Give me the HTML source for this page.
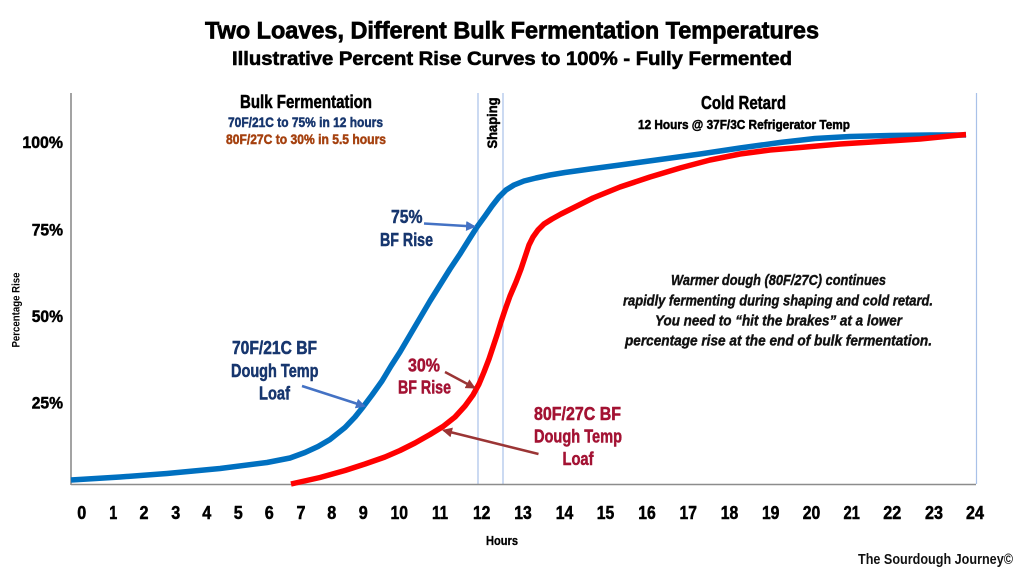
<!DOCTYPE html>
<html><head><meta charset="utf-8"><style>
html,body{margin:0;padding:0;background:#fff;}
svg{display:block;}
text{font-family:"Liberation Sans Narrow","Liberation Sans",sans-serif;font-weight:bold;}
.h{stroke-width:0.5;stroke-linejoin:round;}
</style></head><body>
<svg width="1024" height="576" viewBox="0 0 1024 576" xmlns="http://www.w3.org/2000/svg">
<defs>
<marker id="ab" markerWidth="4" markerHeight="4" refX="3.2" refY="2" orient="auto" markerUnits="strokeWidth"><path d="M0,0 L4,2 L0,4 z" fill="#4472c4"/></marker>
<marker id="ar" markerWidth="4" markerHeight="4" refX="3.2" refY="2" orient="auto" markerUnits="strokeWidth"><path d="M0,0 L4,2 L0,4 z" fill="#9b3535"/></marker>
</defs>
<rect width="1024" height="576" fill="#fff"/>

<!-- titles -->
<text x="205" y="38.5" font-size="24" textLength="614" lengthAdjust="spacingAndGlyphs" fill="#000" stroke="#000" stroke-width="0.7">Two Loaves, Different Bulk Fermentation Temperatures</text>
<text x="232" y="65" font-size="19" textLength="560" lengthAdjust="spacingAndGlyphs" fill="#000" stroke="#000" stroke-width="0.6">Illustrative Percent Rise Curves to 100% - Fully Fermented</text>

<!-- guide lines -->
<line x1="478" y1="93" x2="478" y2="484" stroke="#a9c1e8" stroke-width="1.2"/>
<line x1="503" y1="93" x2="503" y2="484" stroke="#a9c1e8" stroke-width="1.2"/>
<line x1="976.5" y1="93" x2="976.5" y2="484" stroke="#a9c1e8" stroke-width="1.2"/>
<!-- axes -->
<line x1="71" y1="93" x2="71" y2="485" stroke="#8c8c8c" stroke-width="1.6"/>
<line x1="71" y1="484.5" x2="976" y2="484.5" stroke="#8c8c8c" stroke-width="1.6"/>

<!-- section headers -->
<text class="h" stroke="#000" x="240" y="108" font-size="18" textLength="132" lengthAdjust="spacingAndGlyphs" fill="#000">Bulk Fermentation</text>
<text class="h" stroke="#17366e" x="228" y="127" font-size="14" textLength="155" lengthAdjust="spacingAndGlyphs" fill="#17366e">70F/21C to 75% in 12 hours</text>
<text class="h" stroke="#a5410f" x="226" y="144" font-size="14" textLength="160" lengthAdjust="spacingAndGlyphs" fill="#a5410f">80F/27C to 30% in 5.5 hours</text>
<text class="h" stroke="#000" x="701" y="109" font-size="18" textLength="85" lengthAdjust="spacingAndGlyphs" fill="#000">Cold Retard</text>
<text class="h" stroke="#000" x="638" y="129" font-size="13" textLength="212" lengthAdjust="spacingAndGlyphs" fill="#000">12 Hours @ 37F/3C Refrigerator Temp</text>
<text class="h" stroke="#000" transform="translate(497,123) rotate(-90)" x="0" y="0" font-size="14" text-anchor="middle" textLength="51" lengthAdjust="spacingAndGlyphs" fill="#000">Shaping</text>

<!-- y labels -->
<g font-size="17" fill="#000" stroke="#000" class="h" text-anchor="end">
<text x="63" y="148" textLength="40.6" lengthAdjust="spacingAndGlyphs">100%</text>
<text x="63" y="235.5" textLength="31.3" lengthAdjust="spacingAndGlyphs">75%</text>
<text x="63" y="322" textLength="31.3" lengthAdjust="spacingAndGlyphs">50%</text>
<text x="63" y="408.3" textLength="31.3" lengthAdjust="spacingAndGlyphs">25%</text>
</g>
<text transform="translate(19.5,310) rotate(-90)" x="0" y="0" font-size="11" text-anchor="middle" textLength="75" lengthAdjust="spacingAndGlyphs" fill="#000">Percentage Rise</text>

<!-- x labels -->
<g font-size="18" fill="#000" stroke="#000" class="h" text-anchor="middle">
<text x="81.7" y="519" textLength="9" lengthAdjust="spacingAndGlyphs">0</text>
<text x="113.3" y="519" textLength="8" lengthAdjust="spacingAndGlyphs">1</text>
<text x="144" y="519" textLength="9" lengthAdjust="spacingAndGlyphs">2</text>
<text x="175.7" y="519" textLength="9" lengthAdjust="spacingAndGlyphs">3</text>
<text x="206.7" y="519" textLength="9" lengthAdjust="spacingAndGlyphs">4</text>
<text x="238.3" y="519" textLength="9" lengthAdjust="spacingAndGlyphs">5</text>
<text x="269.3" y="519" textLength="9" lengthAdjust="spacingAndGlyphs">6</text>
<text x="301" y="519" textLength="9" lengthAdjust="spacingAndGlyphs">7</text>
<text x="331.7" y="519" textLength="9" lengthAdjust="spacingAndGlyphs">8</text>
<text x="363.3" y="519" textLength="9" lengthAdjust="spacingAndGlyphs">9</text>
<text x="399.3" y="519" textLength="17.5" lengthAdjust="spacingAndGlyphs">10</text>
<text x="440" y="519" textLength="16" lengthAdjust="spacingAndGlyphs">11</text>
<text x="481.7" y="519" textLength="17.5" lengthAdjust="spacingAndGlyphs">12</text>
<text x="523" y="519" textLength="17.5" lengthAdjust="spacingAndGlyphs">13</text>
<text x="564.5" y="519" textLength="17.5" lengthAdjust="spacingAndGlyphs">14</text>
<text x="605.5" y="519" textLength="17.5" lengthAdjust="spacingAndGlyphs">15</text>
<text x="647" y="519" textLength="17.5" lengthAdjust="spacingAndGlyphs">16</text>
<text x="688.3" y="519" textLength="17.5" lengthAdjust="spacingAndGlyphs">17</text>
<text x="729.5" y="519" textLength="17.5" lengthAdjust="spacingAndGlyphs">18</text>
<text x="770.7" y="519" textLength="17.5" lengthAdjust="spacingAndGlyphs">19</text>
<text x="811.5" y="519" textLength="17.5" lengthAdjust="spacingAndGlyphs">20</text>
<text x="851.7" y="519" textLength="16.5" lengthAdjust="spacingAndGlyphs">21</text>
<text x="892.3" y="519" textLength="18" lengthAdjust="spacingAndGlyphs">22</text>
<text x="934" y="519" textLength="18" lengthAdjust="spacingAndGlyphs">23</text>
<text x="975" y="519" textLength="18" lengthAdjust="spacingAndGlyphs">24</text>
</g>
<text x="486" y="545" font-size="13" textLength="32" lengthAdjust="spacingAndGlyphs" fill="#000" stroke="#000" stroke-width="0.3">Hours</text>
<text x="858" y="564" font-size="14.5" textLength="155" lengthAdjust="spacingAndGlyphs" fill="#111" style="font-family:'Liberation Sans',sans-serif;font-weight:bold">The Sourdough Journey©</text>

<!-- curves -->
<polyline fill="none" stroke="#0070c0" stroke-width="5.5" stroke-linejoin="round" stroke-linecap="butt" points="71,480 120,477 167,473.5 220,468.5 267,462.5 290,458 305,452.5 318,446.5 330,439.5 345,427.5 355,417 363,407 372,395 382,381 391,366 400,352 410,335 420,318 430,301 440,285 450,269 460,254 470,238 477,227 485,216 492,206 499,197 506,190 514,185 524,181 536,178 550,175 565,172.5 590,169 620,165 660,159.5 700,154 740,148 780,142.5 815,138.5 850,136.5 890,135.5 930,135 966,135"/>
<polyline fill="none" stroke="#ff0000" stroke-width="5.5" stroke-linejoin="round" stroke-linecap="butt" points="291,484 320,477.5 345,470.5 365,464 385,457 400,450.5 415,443 430,434.5 443,426.5 455,417 465,406 473,395 479,384 484,372 489,359 493,347 497,335 501,322 505,310 510,296 516,282 521,269 525,257 529,245 533,237 538,230 544,224 552,219 561,214 575,207 593,198 620,187 650,177 680,168 710,160 740,154 770,150 800,147.5 840,144 880,141.5 920,139 950,136 966,134.5"/>

<!-- arrows -->
<line x1="424" y1="223.5" x2="474" y2="226.5" stroke="#4472c4" stroke-width="2.5" marker-end="url(#ab)"/>
<line x1="302" y1="386" x2="364" y2="406" stroke="#4472c4" stroke-width="2.5" marker-end="url(#ab)"/>
<line x1="445" y1="372" x2="474" y2="387.5" stroke="#9b3535" stroke-width="2.5" marker-end="url(#ar)"/>
<line x1="538.5" y1="454" x2="444" y2="430.5" stroke="#9b3535" stroke-width="2.5" marker-end="url(#ar)"/>

<!-- annotations -->
<g font-size="18.5" fill="#17366e" stroke="#17366e" class="h">
<text x="391" y="223" textLength="31.5" lengthAdjust="spacingAndGlyphs">75%</text>
<text x="380" y="246" textLength="53" lengthAdjust="spacingAndGlyphs">BF Rise</text>
<text x="232" y="354" textLength="85" lengthAdjust="spacingAndGlyphs">70F/21C BF</text>
<text x="231" y="377" textLength="87.5" lengthAdjust="spacingAndGlyphs">Dough Temp</text>
<text x="259" y="399.3" textLength="31" lengthAdjust="spacingAndGlyphs">Loaf</text>
</g>
<g font-size="18.5" fill="#a31233" stroke="#a31233" class="h">
<text x="408" y="371.7" textLength="32" lengthAdjust="spacingAndGlyphs">30%</text>
<text x="398" y="393.3" textLength="53" lengthAdjust="spacingAndGlyphs">BF Rise</text>
<text x="534" y="420" textLength="87" lengthAdjust="spacingAndGlyphs">80F/27C BF</text>
<text x="534" y="442.7" textLength="88" lengthAdjust="spacingAndGlyphs">Dough Temp</text>
<text x="562.5" y="465" textLength="31" lengthAdjust="spacingAndGlyphs">Loaf</text>
</g>

<g font-size="14.5" fill="#111" stroke="#111" stroke-width="0.4" font-style="italic">
<text x="671" y="285" textLength="215" lengthAdjust="spacingAndGlyphs">Warmer dough (80F/27C) continues</text>
<text x="623" y="305.7" textLength="310" lengthAdjust="spacingAndGlyphs">rapidly fermenting during shaping and cold retard.</text>
<text x="655" y="325.3" textLength="247" lengthAdjust="spacingAndGlyphs">You need to “hit the brakes” at a lower</text>
<text x="625" y="345.7" textLength="307" lengthAdjust="spacingAndGlyphs">percentage rise at the end of bulk fermentation.</text>
</g>
</svg>
</body></html>
